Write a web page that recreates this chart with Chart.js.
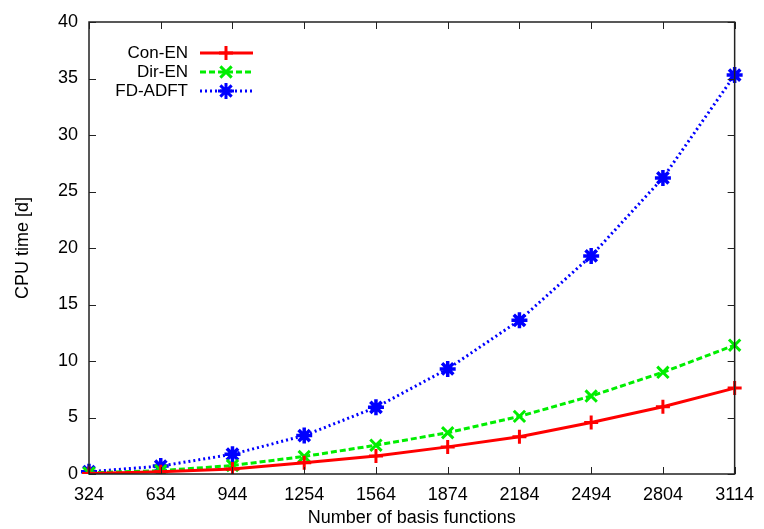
<!DOCTYPE html>
<html>
<head>
<meta charset="utf-8">
<script src="https://cdn.jsdelivr.net/npm/chart.js@4/dist/chart.umd.min.js"></script>
<style>
  html, body { margin: 0; padding: 0; background: #fff; }
  #wrap { width: 764px; height: 529px; }
</style>
</head>
<body>
<div id="wrap"><canvas id="cpuChart"></canvas></div>
<script>
// basis function counts (x axis)
const basisFunctions = [324, 634, 944, 1254, 1564, 1874, 2184, 2494, 2804, 3114];

// CPU time in days
const conEN  = [0.05, 0.2, 0.45, 1.0, 1.6, 2.4, 3.3, 4.55, 5.95, 7.6];
const dirEN  = [0.1, 0.3, 0.75, 1.55, 2.55, 3.65, 5.1, 6.9, 9.0, 11.4];
const fdADFT = [0.2, 0.7, 1.75, 3.4, 5.9, 9.3, 13.6, 19.3, 26.2, 35.3];

const yTicks = [0, 5, 10, 15, 20, 25, 30, 35, 40];

const FONT = 'Liberation Sans, Arial, sans-serif';

// gnuplot-like frame with inward ticks on all sides + key in top-left
const framePlugin = {
  id: 'frame',
  afterDatasetsDraw(chart) {
    const ctx = chart.ctx;
    const a = chart.chartArea;
    const xs = chart.scales.x, ys = chart.scales.y;
    ctx.save();
    ctx.strokeStyle = '#222';
    ctx.lineWidth = 1;
    ctx.beginPath();
    basisFunctions.forEach((v, i) => {
      const px = Math.round(xs.getPixelForValue(i)) + 0.5;
      ctx.moveTo(px, a.bottom); ctx.lineTo(px, a.bottom - 7);
      ctx.moveTo(px, a.top); ctx.lineTo(px, a.top + 7);
    });
    yTicks.forEach(v => {
      const py = Math.round(ys.getPixelForValue(v)) + 0.5;
      ctx.moveTo(a.left, py); ctx.lineTo(a.left + 7, py);
      ctx.moveTo(a.right, py); ctx.lineTo(a.right - 7, py);
    });
    ctx.stroke();
    ctx.lineWidth = 1.5;
    ctx.strokeRect(a.left, a.top, a.right - a.left, a.bottom - a.top);

    // key
    ctx.font = '17px ' + FONT;
    ctx.textAlign = 'right';
    ctx.textBaseline = 'middle';
    chart.data.datasets.forEach((ds, i) => {
      const ty = a.top + 31 + i * 19;
      const tx = a.left + 99;
      ctx.fillStyle = '#000';
      ctx.fillText(ds.label, tx, ty);
      ctx.strokeStyle = ds.borderColor;
      ctx.lineWidth = ds.borderWidth;
      ctx.setLineDash(ds.borderDash || []);
      ctx.beginPath();
      ctx.moveTo(tx + 12, ty); ctx.lineTo(tx + 65, ty);
      ctx.stroke();
      ctx.setLineDash([]);
      Chart.helpers.drawPoint(ctx, {
        pointStyle: ds.pointStyle, radius: ds.pointRadius, borderWidth: ds.pointBorderWidth
      }, tx + 38, ty);
    });
    ctx.restore();
  }
};

const mk = (label, data, color, dash, style, r, pw) => ({
  label: label,
  data: data,
  borderColor: color,
  backgroundColor: color,
  borderWidth: 3,
  borderDash: dash,
  pointStyle: style,
  pointRadius: r,
  pointBorderWidth: pw,
  pointBorderColor: color,
  tension: 0,
  fill: false
});

new Chart(document.getElementById('cpuChart'), {
  type: 'line',
  data: {
    labels: basisFunctions,
    datasets: [
      mk('Con-EN', conEN, '#ff0000', [], 'cross', 7, 3),
      mk('Dir-EN', dirEN, '#00ee00', [6, 3], 'crossRot', 8, 3),
      mk('FD-ADFT', fdADFT, '#0000ff', [2, 3], 'star', 8, 3.5)
    ]
  },
  options: {
    responsive: true,
    maintainAspectRatio: false,
    animation: false,
    layout: { padding: { top: 22, right: 24, left: 0, bottom: 0 } },
    plugins: { legend: { display: false }, tooltip: { enabled: false } },
    scales: {
      x: {
        type: 'category',
        offset: false,
        grid: { display: false, drawTicks: false },
        border: { display: false },
        ticks: { color: '#000', font: { size: 18, family: FONT }, padding: 10, maxRotation: 0, autoSkip: false },
        title: { display: true, text: 'Number of basis functions', color: '#000', font: { size: 18, family: FONT }, padding: { top: 1, bottom: 0 } },
        afterFit(s) { s.height = 55; }
      },
      y: {
        min: 0,
        max: 40,
        ticks: { stepSize: 5, color: '#000', font: { size: 18, family: FONT }, padding: 11 },
        grid: { display: false, drawTicks: false },
        border: { display: false },
        title: { display: true, text: 'CPU time [d]', color: '#000', font: { size: 18, family: FONT }, padding: { top: 12, bottom: 0 } },
        afterFit(s) { s.width = 89; }
      }
    }
  },
  plugins: [framePlugin]
});
</script>
</body>
</html>
